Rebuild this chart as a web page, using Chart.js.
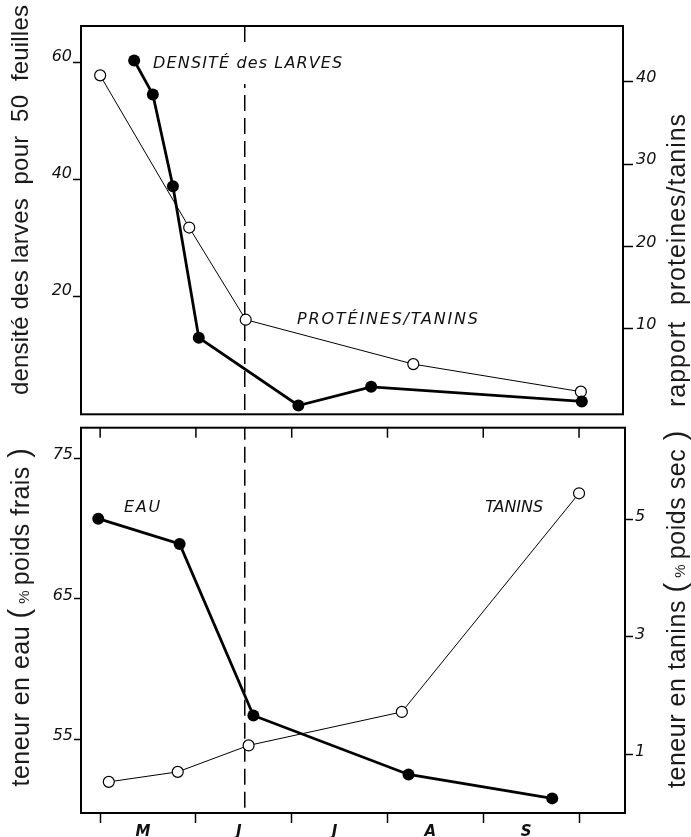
<!DOCTYPE html>
<html><head><meta charset="utf-8">
<script src="https://cdn.jsdelivr.net/npm/chart.js@4.4.1/dist/chart.umd.min.js"></script>
<style>
html,body{margin:0;padding:0;background:#fff;}
#wrap{position:relative;width:691px;height:837px;overflow:hidden;}
#c1{position:absolute;left:0;top:0;}
#c2{position:absolute;left:0;top:421px;}
</style></head><body>
<div id="wrap"><canvas id="c1" width="691" height="421"></canvas><canvas id="c2" width="691" height="416"></canvas></div>
<script>
// ---- data (x in months from 1 May; 0 = start of May) ----
const monthLabels = ['M', 'J', 'J', 'A', 'S'];
const monthBoundaries = [0, 1, 2, 3, 4, 5];
const densityX = [0.355, 0.55, 0.76, 1.03, 2.07, 2.83, 5.03];
const densityY = [60.3, 54.5, 38.8, 12.9, 1.3, 4.5, 2.0];
const ratioX = [0.0, 0.93, 1.52, 3.27, 5.02];
const ratioY = [40.8, 22.3, 11.1, 5.7, 2.35];
const waterX = [-0.02, 0.83, 1.6, 3.22, 4.72];
const waterY = [70.7, 68.9, 56.7, 52.5, 50.8];
const taninX = [0.09, 0.81, 1.55, 3.15, 5.0];
const taninY = [0.53, 0.70, 1.15, 1.72, 5.44];
const densityTicks = [20, 40, 60];
const ratioTicks = [10, 20, 30, 40];
const waterTicks = [55, 65, 75];
const taninTicks = [1, 3, 5];
const dashMonth = 1.51;

const pts = (xs, ys) => xs.map((x, i) => ({x: x, y: ys[i]}));
const INK = '#111';
const LFONT = '"DejaVu Sans"';
const tickFont = {family: 'DejaVu Sans', style: 'italic', size: 16};

function yScale(pos, min, max, ticks, width, tickLen, pad, lOff) {
  return {
    type: 'linear', position: pos, min: min, max: max,
    afterBuildTicks: s => { s.ticks = ticks.map(v => ({value: v})); },
    afterFit: s => { s.width = width; s.paddingTop = 0; s.paddingBottom = 0; },
    ticks: {font: tickFont, color: INK, padding: pad, labelOffset: lOff, autoSkip: false},
    grid: {drawOnChartArea: false, drawTicks: true, tickLength: tickLen, tickColor: '#000', tickWidth: 1.5},
    border: {display: false},
    title: {display: false}
  };
}

function drawLabel(ctx, chart, l, bgOnly) {
  const xs = chart.scales.x, ys = chart.scales[l.axis];
  const px = xs.getPixelForValue(l.x), py = ys.getPixelForValue(l.y);
  ctx.save();
  ctx.font = 'italic ' + l.size + 'px ' + LFONT;
  ctx.letterSpacing = '0px';
  const w0 = ctx.measureText(l.text).width;
  const n = l.text.length;
  const sp = n > 1 ? (l.width - w0) / (n - 1) : 0;
  ctx.letterSpacing = sp.toFixed(2) + 'px';
  const w = ctx.measureText(l.text).width;
  if (bgOnly) {
    ctx.fillStyle = '#fff';
    ctx.fillRect(px - 4, py - l.size * 0.5 - 12, w + 8, l.size + 24);
  } else {
    ctx.fillStyle = INK;
    ctx.textBaseline = 'middle';
    ctx.textAlign = 'left';
    ctx.fillText(l.text, px, py);
  }
  ctx.restore();
}

function drawTitle(ctx, t) {
  ctx.save();
  ctx.translate(t.cx, t.cy);
  ctx.rotate(-Math.PI / 2);
  ctx.fillStyle = '#1a1a1a';
  ctx.textBaseline = 'alphabetic';
  ctx.textAlign = 'left';
  const base = t.size;
  let total = 0, chars = 0;
  ctx.letterSpacing = '0px';
  t.segs.forEach(s => { ctx.font = (base * s[1]) + 'px "Liberation Sans"'; total += ctx.measureText(s[0]).width; chars += s[0].length; });
  const sp = (t.len - total) / Math.max(1, chars);
  ctx.letterSpacing = sp.toFixed(2) + 'px';
  let x = -t.len / 2;
  const bl = base * 0.26;
  t.segs.forEach(s => {
    ctx.font = (base * s[1]) + 'px "Liberation Sans"';
    ctx.fillText(s[0], x, bl);
    x += ctx.measureText(s[0]).width;
  });
  ctx.restore();
}

const deco = {
  id: 'deco',
  beforeDatasetsDraw(chart, args, o) {
    const ctx = chart.ctx, a = chart.chartArea;
    const px = chart.scales.x.getPixelForValue(o.dashX);
    ctx.save();
    ctx.strokeStyle = '#000'; ctx.lineWidth = 1.5;
    ctx.setLineDash([16, 7]); ctx.lineDashOffset = o.dashOffset || 0;
    ctx.beginPath(); ctx.moveTo(px, a.top); ctx.lineTo(px, a.bottom); ctx.stroke();
    ctx.restore();
    (o.labels || []).forEach(l => { if (l.bg) drawLabel(ctx, chart, l, true); });
  },
  afterDraw(chart, args, o) {
    const ctx = chart.ctx, a = chart.chartArea;
    ctx.save();
    ctx.strokeStyle = '#000'; ctx.lineWidth = 2; ctx.setLineDash([]);
    ctx.strokeRect(a.left, a.top, a.right - a.left, a.bottom - a.top);
    if (o.innerTicks) {
      ctx.lineWidth = 1.5;
      o.innerTicks.forEach(v => {
        const px = chart.scales.x.getPixelForValue(v);
        ctx.beginPath(); ctx.moveTo(px, a.top); ctx.lineTo(px, a.top + 10); ctx.stroke();
      });
    }
    ctx.restore();
    (o.labels || []).forEach(l => drawLabel(ctx, chart, l, false));
    (o.titles || []).forEach(t => drawTitle(ctx, t));
  }
};

const common = {
  responsive: false, animation: false, devicePixelRatio: 1,
  events: []
};

const thick = {borderColor: '#000', borderWidth: 2.8, pointRadius: 6, pointBackgroundColor: '#000',
  pointBorderColor: '#000', pointBorderWidth: 0, clip: false, showLine: true};
const thin = {borderColor: '#000', borderWidth: 1, pointRadius: 5.5, pointBackgroundColor: '#fff',
  pointBorderColor: '#000', pointBorderWidth: 1.2, clip: false, showLine: true};

new Chart(document.getElementById('c1'), {
  type: 'scatter',
  data: {datasets: [
    Object.assign({label: 'densité des larves', data: pts(densityX, densityY), yAxisID: 'yL'}, thick),
    Object.assign({label: 'protéines/tanins', data: pts(ratioX, ratioY), yAxisID: 'yR'}, thin)
  ]},
  options: Object.assign({}, common, {
    layout: {padding: {top: 26, bottom: 0, left: 0, right: 0}},
    scales: {
      x: {type: 'linear', display: false, min: -0.2, max: 5.46},
      yL: yScale('left', -0.2, 66.2, densityTicks, 81, 8, 1, -5),
      yR: yScale('right', -0.4, 46.8, ratioTicks, 68, 10, 3, -4)
    },
    plugins: {
      legend: {display: false}, tooltip: {enabled: false},
      deco: {
        dashX: dashMonth, dashOffset: 0,
        labels: [
          {text: 'DENSITÉ des LARVES', x: 0.553, y: 59.7, axis: 'yL', size: 16, width: 189, bg: true},
          {text: 'PROTÉINES/TANINS', x: 2.056, y: 11.1, axis: 'yR', size: 16, width: 181, bg: false}
        ],
        titles: [
          {segs: [['densité des larves  pour  50  feuilles', 1]], cx: 22, cy: 200, len: 390, size: 24},
          {segs: [['rapport  proteines/tanins', 1]], cx: 678, cy: 260, len: 294, size: 25}
        ]
      }
    }
  }),
  plugins: [deco]
});

new Chart(document.getElementById('c2'), {
  type: 'scatter',
  data: {datasets: [
    Object.assign({label: 'eau', data: pts(waterX, waterY), yAxisID: 'yL'}, thick),
    Object.assign({label: 'tanins', data: pts(taninX, taninY), yAxisID: 'yR'}, thin)
  ]},
  options: Object.assign({}, common, {
    layout: {padding: 0},
    scales: {
      x: {
        type: 'linear', position: 'bottom', min: -0.2, max: 5.48,
        afterBuildTicks: s => {
          const t = [];
          monthBoundaries.forEach((b, i) => {
            t.push({value: b});
            if (i < monthLabels.length) t.push({value: b + 0.5});
          });
          s.ticks = t;
        },
        afterFit: s => { s.height = 24; s.paddingLeft = 0; s.paddingRight = 0; },
        ticks: {
          autoSkip: false, maxRotation: 0, padding: 0, color: INK, labelOffset: -5,
          font: {family: 'DejaVu Sans', style: 'italic', weight: 'bold', size: 15},
          callback: v => Number.isInteger(v) ? '' : monthLabels[Math.floor(v)]
        },
        grid: {drawOnChartArea: false, tickLength: 10, tickWidth: 1.5,
          tickColor: c => (c.tick && Number.isInteger(c.tick.value)) ? '#000' : 'rgba(0,0,0,0)'},
        border: {display: false}
      },
      yL: yScale('left', 49.76, 77.17, waterTicks, 81, 7, 1, -3),
      yR: yScale('right', 0, 6.556, taninTicks, 66, 8, 2, -2)
    },
    plugins: {
      legend: {display: false}, tooltip: {enabled: false},
      deco: {
        dashX: dashMonth, dashOffset: 395 % 23,
        innerTicks: monthBoundaries,
        labels: [
          {text: 'EAU', x: 0.25, y: 71.5, axis: 'yL', size: 16, width: 36, bg: false},
          {text: 'TANINS', x: 4.02, y: 71.5, axis: 'yL', size: 16, width: 58, bg: false}
        ],
        titles: [
          {segs: [['teneur en eau ', 1], ['(', 1.15], [' % ', 0.6], ['poids frais', 1], [' )', 1.15]], cx: 22, cy: 196, len: 339, size: 25},
          {segs: [['teneur en tanins ', 1], ['(', 1.15], [' % ', 0.6], ['poids sec', 1], [' )', 1.15]], cx: 678, cy: 188, len: 358, size: 25}
        ]
      }
    }
  }),
  plugins: [deco]
});
</script>
</body></html>
